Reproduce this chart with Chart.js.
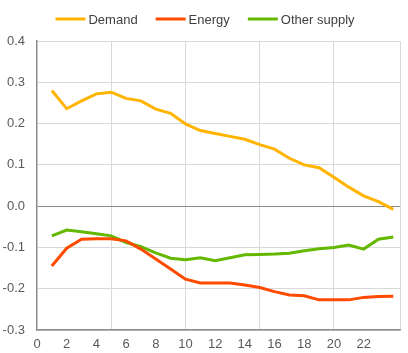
<!DOCTYPE html>
<html>
<head>
<meta charset="utf-8">
<script src="https://cdn.jsdelivr.net/npm/chart.js@4"></script>
<style>
  html, body { margin: 0; padding: 0; background: #fff; }
  #wrap { position: relative; width: 408px; height: 353px; }
</style>
</head>
<body>
<div id="wrap"><canvas id="c" width="408" height="353"></canvas></div>
<script>
// horizon (x) and the three series
var horizon = [1, 2, 3, 4, 5, 6, 7, 8, 9, 10, 11, 12, 13, 14, 15, 16, 17, 18, 19, 20, 21, 22, 23, 24];
var demand = [0.280, 0.236, 0.255, 0.272, 0.276, 0.261, 0.255, 0.235, 0.225, 0.199, 0.183, 0.176, 0.169, 0.162, 0.149,
              0.138, 0.116, 0.100, 0.093, 0.070, 0.046, 0.025, 0.011, -0.008];
var energy = [-0.145, -0.102, -0.080, -0.079, -0.079, -0.084, -0.104, -0.128, -0.152, -0.177, -0.186, -0.186, -0.186, -0.191, -0.197,
              -0.207, -0.215, -0.217, -0.227, -0.227, -0.227, -0.221, -0.219, -0.218];
var otherSupply = [-0.072, -0.058, -0.062, -0.067, -0.072, -0.088, -0.098, -0.113, -0.126, -0.130, -0.125, -0.132, -0.125, -0.118, -0.117,
                   -0.116, -0.114, -0.108, -0.103, -0.100, -0.094, -0.104, -0.080, -0.075];
var seriesNames = ['Demand', 'Energy', 'Other supply'];
var colours = ['#FFB400', '#FF4B00', '#65B800'];

var X_MAX = 24.45;
var FONT_FAMILY = '"Liberation Sans", Arial, sans-serif';
var FONT = { family: FONT_FAMILY, size: 13 };

function points(vals) {
    return vals.map(function (v, i) { return { x: horizon[i], y: v }; });
}

var data = [demand, energy, otherSupply].map(function (vals, i) {
    return {
        label: seriesNames[i],
        data: points(vals),
        borderColor: colours[i],
        backgroundColor: colours[i],
        borderWidth: 3,
        pointRadius: 0,
        tension: 0
    };
});

// Excel-style legend: 30px line, short gap, label; drawn above the plot
var lineLegend = {
    id: 'lineLegend',
    afterDraw: function (chart) {
        var ctx = chart.ctx;
        var sets = chart.data.datasets;
        ctx.save();
        ctx.font = '13px ' + FONT_FAMILY;
        var widths = sets.map(function (d) { return ctx.measureText(d.label).width; });
        var total = widths.reduce(function (a, w) { return a + w + 33; }, 0) + 18 * (sets.length - 1);
        var x = chart.width / 2 - total / 2 + 1;
        var y = 19;
        ctx.textBaseline = 'middle';
        ctx.textAlign = 'left';
        sets.forEach(function (d, i) {
            ctx.strokeStyle = d.borderColor;
            ctx.lineWidth = 3;
            ctx.beginPath();
            ctx.moveTo(x, y);
            ctx.lineTo(x + 30, y);
            ctx.stroke();
            ctx.fillStyle = '#404040';
            ctx.fillText(d.label, x + 33, y + 1);
            x += 33 + widths[i] + 18;
        });
        ctx.restore();
    }
};

new Chart(document.getElementById('c'), {
    type: 'line',
    data: { datasets: data },
    plugins: [lineLegend],
    options: {
        responsive: false,
        animation: false,
        layout: { padding: { left: 0, right: 8, top: 41, bottom: 0 } },
        plugins: {
            tooltip: { enabled: false },
            legend: { display: false }
        },
        scales: {
            x: {
                type: 'linear',
                min: 0,
                max: X_MAX,
                afterFit: function (s) { s.height = 23; },
                grid: {
                    drawTicks: false,
                    lineWidth: 1,
                    color: function (ctx) {
                        var v = ctx.tick.value;
                        if (v === X_MAX) return '#d9d9d9';
                        return (v > 0 && v % 5 === 0) ? '#d9d9d9' : 'rgba(0,0,0,0)';
                    }
                },
                border: { color: '#8c8c8c', width: 1.5 },
                ticks: {
                    stepSize: 1,
                    autoSkip: false,
                    maxRotation: 0,
                    padding: 7,
                    font: FONT,
                    color: '#595959',
                    callback: function (v) {
                        return (Number.isInteger(v) && v % 2 === 0 && v < 24) ? String(v) : '';
                    }
                }
            },
            y: {
                min: -0.3,
                max: 0.4,
                afterFit: function (s) { s.width = 37; },
                grid: {
                    drawTicks: false,
                    color: function (ctx) {
                        return Math.abs(ctx.tick.value) < 1e-9 ? '#8c8c8c' : '#d9d9d9';
                    }
                },
                border: { color: '#8c8c8c', width: 1.5 },
                ticks: {
                    stepSize: 0.1,
                    padding: 12,
                    font: FONT,
                    color: '#595959',
                    callback: function (v) { return v.toFixed(1); }
                }
            }
        }
    }
});
</script>
</body>
</html>
